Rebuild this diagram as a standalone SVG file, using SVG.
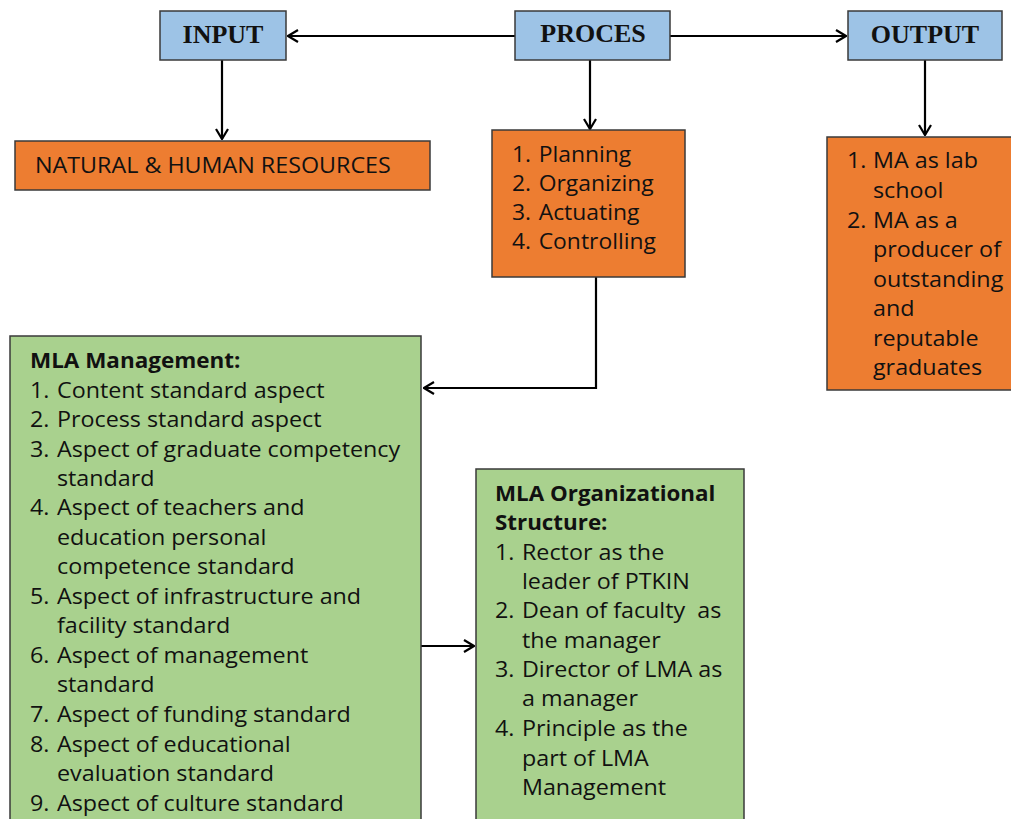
<svg xmlns="http://www.w3.org/2000/svg" width="1011" height="819" viewBox="0 0 1011 819">
<defs>
<marker id="ah" viewBox="0 0 12 14" refX="11" refY="7" markerWidth="12" markerHeight="14" markerUnits="userSpaceOnUse" orient="auto">
<path d="M1,1 L11,7 L1,13" fill="none" stroke="#000" stroke-width="2.2"/>
</marker>
<style>
.hb{fill:#9dc3e6;stroke:#3a3a3a;stroke-width:1.5}
.ob{fill:#ed7d31;stroke:#3a3a3a;stroke-width:1.5}
.gb{fill:#a9d18e;stroke:#3a3a3a;stroke-width:1.5}
.ht{font-family:"Liberation Serif",serif;font-weight:bold;font-size:26px;fill:#111;text-anchor:middle}
.t{font-family:"Open Sans","Liberation Sans",sans-serif;font-size:21px;fill:#111}
.b{font-weight:bold}
.c{fill:none;stroke:#000;stroke-width:2.2}
</style>
</defs>
<rect width="1011" height="819" fill="#fff"/>
<g id="connectors">
<line class="c" x1="515" y1="36" x2="288" y2="36" marker-end="url(#ah)"/>
<line class="c" x1="670" y1="36" x2="846" y2="36" marker-end="url(#ah)"/>
<line class="c" x1="222" y1="60" x2="222" y2="139" marker-end="url(#ah)"/>
<line class="c" x1="590" y1="60" x2="590" y2="129" marker-end="url(#ah)"/>
<line class="c" x1="925" y1="60" x2="925" y2="135" marker-end="url(#ah)"/>
<polyline class="c" points="596,277 596,388 424,388" marker-end="url(#ah)"/>
<line class="c" x1="421" y1="646" x2="474" y2="646" marker-end="url(#ah)"/>
</g>
<g id="input"><rect class="hb" x="160" y="11" width="126" height="49"/><text class="ht" x="223" y="43">INPUT</text></g>
<g id="proces"><rect class="hb" x="515" y="11" width="155" height="49"/><text class="ht" x="593" y="42">PROCES</text></g>
<g id="output"><rect class="hb" x="848" y="11" width="154" height="49"/><text class="ht" x="925" y="43">OUTPUT</text></g>
<g id="resources"><rect class="ob" x="15" y="141" width="415" height="49"/><text class="t" transform="matrix(1.11,0,0,1,-3.85,0)" x="35" y="173">NATURAL &amp; HUMAN RESOURCES</text></g>
<g id="process-list"><rect class="ob" x="492" y="130" width="193" height="147"/>
<text class="t" transform="matrix(1.09,0,0,1,-46.08,0)"><tspan x="512" y="162">1.</tspan><tspan x="536.5" y="162">Planning</tspan><tspan x="512" y="191">2.</tspan><tspan x="536.5" y="191">Organizing</tspan><tspan x="512" y="220">3.</tspan><tspan x="536.5" y="220">Actuating</tspan><tspan x="512" y="249">4.</tspan><tspan x="536.5" y="249">Controlling</tspan></text></g>
<g id="output-list"><rect class="ob" x="827" y="137" width="190" height="253"/>
<text class="t" transform="matrix(1.11,0,0,1,-93.17,0)"><tspan x="847" y="168">1.</tspan><tspan x="870.4" y="168">MA as lab</tspan><tspan x="870.4" y="198">school</tspan><tspan x="847" y="228">2.</tspan><tspan x="870.4" y="228">MA as a</tspan><tspan x="870.4" y="257">producer of</tspan><tspan x="870.4" y="287">outstanding</tspan><tspan x="870.4" y="316">and</tspan><tspan x="870.4" y="346">reputable</tspan><tspan x="870.4" y="375">graduates</tspan></text></g>
<g id="mla-management"><rect class="gb" x="10" y="336" width="411" height="495"/>
<text class="t b" transform="matrix(1.07,0,0,1,-2.1,0)" x="30" y="368">MLA Management:</text>
<text class="t" transform="matrix(1.11,0,0,1,-3.3,0)">
<tspan x="30" y="398">1.</tspan><tspan x="54.3" y="398">Content standard aspect</tspan>
<tspan x="30" y="427">2.</tspan><tspan x="54.3" y="427">Process standard aspect</tspan>
<tspan x="30" y="457">3.</tspan><tspan x="54.3" y="457">Aspect of graduate competency</tspan>
<tspan x="54.3" y="486">standard</tspan>
<tspan x="30" y="515">4.</tspan><tspan x="54.3" y="515">Aspect of teachers and</tspan>
<tspan x="54.3" y="545">education personal</tspan>
<tspan x="54.3" y="574">competence standard</tspan>
<tspan x="30" y="604">5.</tspan><tspan x="54.3" y="604">Aspect of infrastructure and</tspan>
<tspan x="54.3" y="633">facility standard</tspan>
<tspan x="30" y="663">6.</tspan><tspan x="54.3" y="663">Aspect of management</tspan>
<tspan x="54.3" y="692">standard</tspan>
<tspan x="30" y="722">7.</tspan><tspan x="54.3" y="722">Aspect of funding standard</tspan>
<tspan x="30" y="752">8.</tspan><tspan x="54.3" y="752">Aspect of educational</tspan>
<tspan x="54.3" y="781">evaluation standard</tspan>
<tspan x="30" y="811">9.</tspan><tspan x="54.3" y="811">Aspect of culture standard</tspan></text></g>
<g id="mla-org"><rect class="gb" x="476" y="469" width="268" height="362"/>
<text class="t b" transform="matrix(1.065,0,0,1,-32.18,0)"><tspan x="495" y="501">MLA Organizational</tspan><tspan x="495" y="530">Structure:</tspan></text>
<text class="t" transform="matrix(1.11,0,0,1,-54.45,0)">
<tspan x="495" y="560">1.</tspan><tspan x="519.3" y="560">Rector as the</tspan>
<tspan x="519.3" y="589">leader of PTKIN</tspan>
<tspan x="495" y="618">2.</tspan><tspan x="519.3" y="618" xml:space="preserve">Dean of faculty  as</tspan>
<tspan x="519.3" y="648">the manager</tspan>
<tspan x="495" y="677">3.</tspan><tspan x="519.3" y="677">Director of LMA as</tspan>
<tspan x="519.3" y="706">a manager</tspan>
<tspan x="495" y="736">4.</tspan><tspan x="519.3" y="736">Principle as the</tspan>
<tspan x="519.3" y="766">part of LMA</tspan>
<tspan x="519.3" y="795">Management</tspan></text></g>
</svg>
